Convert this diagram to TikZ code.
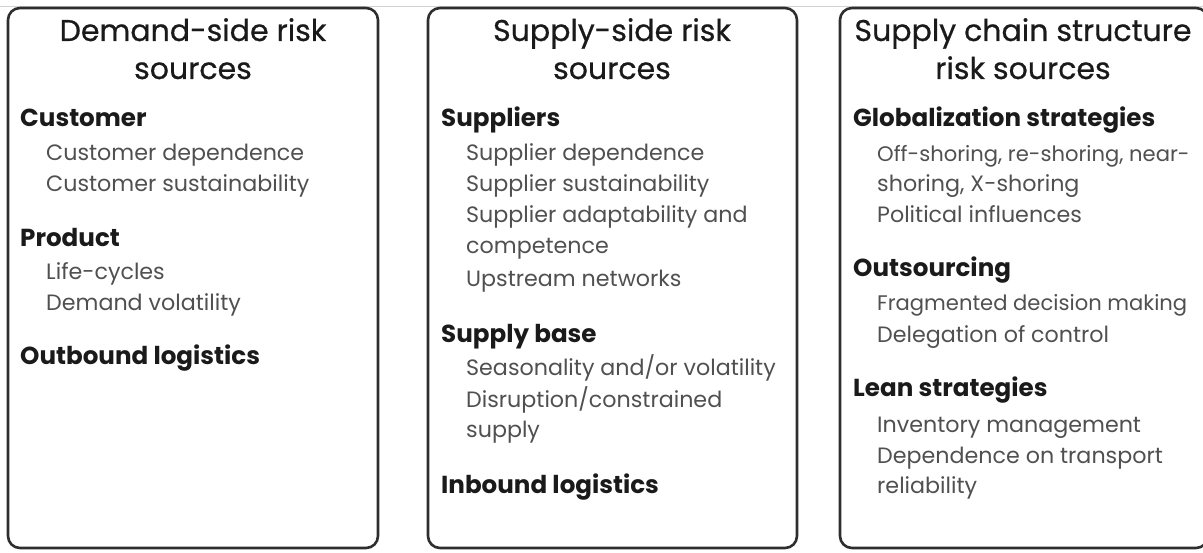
\documentclass[tikz,border=0pt]{standalone}
\usepackage{fontspec}
\setmainfont{Poppins}
\newfontfamily\ttlfont[FakeBold=0.6]{Poppins}
\definecolor{boxline}{HTML}{2E2E2E}
\definecolor{headc}{HTML}{1A1A1A}
\definecolor{itemc}{HTML}{505050}
\tikzset{
  panel/.style={draw=boxline, line width=2.6pt, rounded corners=12pt},
  ttl/.style={anchor=base, inner sep=0pt, text=headc, font=\ttlfont\fontsize{30}{33}\selectfont},
  head/.style={anchor=base west, inner sep=0pt, text=headc, font=\fontsize{24.6}{28}\selectfont\bfseries},
  item/.style={anchor=base west, inner sep=0pt, text=itemc, font=\fontsize{22.2}{26}\selectfont},
  itemtight/.style={item, font=\fontsize{21.1}{25}\selectfont},
}
\begin{document}
\begin{tikzpicture}[x=1pt,y=-1pt]
\clip (0,0) rectangle (1203,553);
\fill[white] (0,0) rectangle (1203,553);
\draw[gray!35, line width=1pt] (0,7) -- (1203,7);
\draw[panel, fill=white] (8,8) rectangle (378,548);
\draw[panel, fill=white] (428,8) rectangle (797,548);
\draw[panel, fill=white] (840,8) rectangle (1208,548);

% Box 1
\node[ttl] (t1a) at (193,41) {Demand-side risk};
\node[ttl] (t1b) at (193,79) {sources};
\node[head] (h11) at (20,127) {Customer};
\node[item] (i111) at (46,161) {Customer dependence};
\node[item] (i112) at (46,192) {Customer sustainability};
\node[head] (h12) at (20,247) {Product};
\node[item] (i121) at (46,280) {Life-cycles};
\node[item] (i122) at (46,311) {Demand volatility};
\node[head] (h13) at (20,365) {Outbound logistics};

% Box 2
\node[ttl] (t2a) at (612,41) {Supply-side risk};
\node[ttl] (t2b) at (612,79) {sources};
\node[head] (h21) at (441,127) {Suppliers};
\node[item] (i211) at (466,161) {Supplier dependence};
\node[item] (i212) at (466,192) {Supplier sustainability};
\node[item] (i213) at (466,223) {Supplier adaptability and};
\node[item] (i214) at (466,254) {competence};
\node[item] (i215) at (466,287) {Upstream networks};
\node[head] (h22) at (441,343) {Supply base};
\node[item] (i221) at (466,376) {Seasonality and/or volatility};
\node[item] (i222) at (466,408) {Disruption/constrained};
\node[item] (i223) at (466,438) {supply};
\node[head] (h23) at (441,493) {Inbound logistics};

% Box 3
\node[ttl] (t3a) at (1023,41) {Supply chain structure};
\node[ttl] (t3b) at (1023,79) {risk sources};
\node[head] (h31) at (853,127) {Globalization strategies};
\node[itemtight] (i311) at (877,162) {Off-shoring, re-shoring, near-};
\node[item] (i312) at (877,192) {shoring, X-shoring};
\node[item] (i313) at (877,223) {Political influences};
\node[head] (h32) at (853,277) {Outsourcing};
\node[itemtight] (i321) at (877,311) {Fragmented decision making};
\node[item] (i322) at (877,343) {Delegation of control};
\node[head] (h33) at (853,397) {Lean strategies};
\node[item] (i331) at (877,432) {Inventory management};
\node[item] (i332) at (877,463) {Dependence on transport};
\node[item] (i333) at (877,493) {reliability};
\end{tikzpicture}
\end{document}
